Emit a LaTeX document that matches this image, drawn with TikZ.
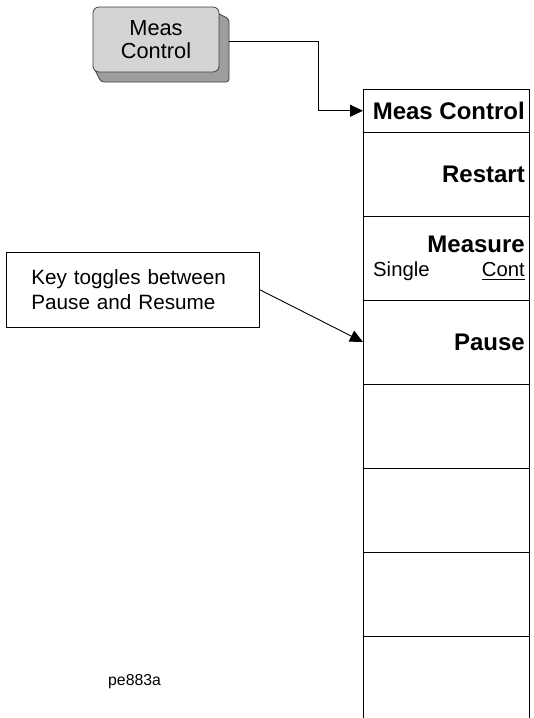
\documentclass[tikz,border=0pt]{standalone}
\usepackage{fontspec}
\setmainfont{Liberation Sans}
\usetikzlibrary{arrows.meta,calc}
\definecolor{keyface}{RGB}{212,212,212}
\definecolor{keyshade}{RGB}{158,158,158}
\begin{document}
\begin{tikzpicture}[x=1pt,y=-1pt,
  cell/.style={draw=black, line width=1pt, minimum width=166pt, inner sep=0pt, anchor=north west},
  lbl/.style={inner sep=0pt, font=\fontsize{24}{28}\selectfont\bfseries},
  sub/.style={inner sep=0pt, font=\fontsize{20.3}{24}\selectfont},
  arr/.style={line width=0.9pt, -{Triangle[length=13pt,width=12pt]}},
]
\useasboundingbox (0,0) rectangle (534,718);
% softkey panel
\node[cell, minimum height=42.5pt] (c0) at (363,89) {};
\node[cell, minimum height=84pt] (c1) at (363,131.5) {};
\node[cell, minimum height=84pt] (c2) at (363,215.5) {};
\node[cell, minimum height=84pt] (c3) at (363,299.5) {};
\node[cell, minimum height=84pt] (c4) at (363,383.5) {};
\node[cell, minimum height=84pt] (c5) at (363,467.5) {};
\node[cell, minimum height=84pt] (c6) at (363,551.5) {};
\node[cell, minimum height=95pt] (c7) at (363,635.5) {};
\node[lbl, anchor=east] (t0) at ($(c0.east)+(-5,0)$) {Meas Control};
\node[lbl, anchor=east] (t1) at ($(c1.east)+(-5,0)$) {Restart};
\node[lbl, anchor=base east] (t2) at ($(c2.north east)+(-5,37)$) {Measure};
\node[sub, anchor=base west] (single) at ($(c2.north west)+(10,60.5)$) {Single};
\node[sub, anchor=base east] (cont) at ($(c2.north east)+(-5,60.5)$) {Cont};
\draw[line width=0.8pt] ($(cont.base west)+(0,3.5)$) -- ($(cont.base east)+(0,3.5)$);
\node[lbl, anchor=east] (t3) at ($(c3.east)+(-5,0)$) {Pause};
% hard key
\filldraw[fill=keyshade, draw=black!75, line width=0.8pt, rounded corners=3pt]
  (208,8) -- (229,19) -- (229,82) -- (101,82) -- (94,68) -- cycle;
\node[draw=black!75, line width=0.8pt, rounded corners=6pt, fill=keyface,
  minimum width=126pt, minimum height=65pt, align=center,
  font=\fontsize{21.8}{23.3}\selectfont] (key) at (156,39.5) {Meas\\Control};
\coordinate (keyout) at (229,41.7);
\draw[arr] (keyout) -| ($(c0.west)+(-45,0)$) -- (c0.west);
% callout
\node[draw, line width=0.8pt, anchor=north west, minimum height=75pt,
  text width=202.7pt, inner xsep=25pt, inner ysep=0pt, align=left,
  font=\fontsize{20.7}{24.4}\selectfont] (call) at (6,251.7)
  {Key toggles between\\Pause and Resume};
\draw[arr] (call.east) -- (c3.west);
% figure id
\node[inner sep=0pt, anchor=base west, font=\fontsize{15.8}{18}\selectfont] (fig) at (108,685) {pe883a};
\end{tikzpicture}
\end{document}
